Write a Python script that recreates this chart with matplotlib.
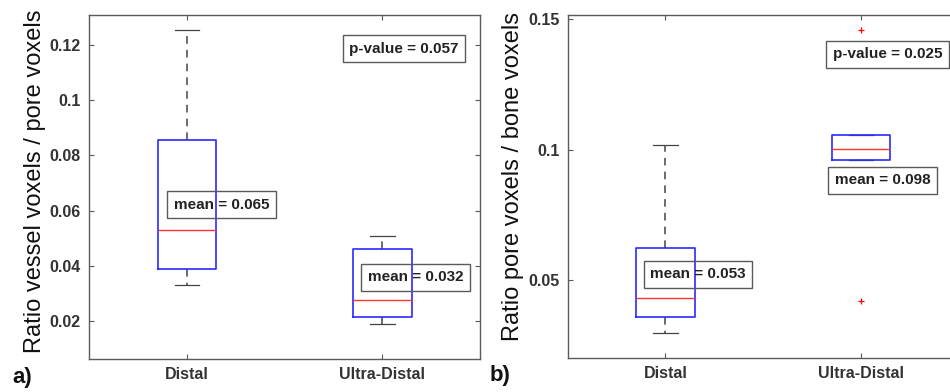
import matplotlib
matplotlib.use("Agg")
import matplotlib.pyplot as plt

plt.rcParams['font.family'] = ['Liberation Sans', 'DejaVu Sans']

groups = ["Distal", "Ultra-Distal"]

# panel a) vessel / pore ratio: q1, median, q3, whisker low, whisker high
vessel_q1 = [0.0387, 0.0213]
vessel_med = [0.0530, 0.0274]
vessel_q3 = [0.0856, 0.0462]
vessel_lo = [0.0331, 0.0188]
vessel_hi = [0.1257, 0.0507]
vessel_out = [[], []]
vessel_means = [0.065, 0.032]
vessel_p = 0.057

# panel b) pore / bone ratio
pore_q1 = [0.0361, 0.0959]
pore_med = [0.0433, 0.1003]
pore_q3 = [0.0625, 0.1057]
pore_lo = [0.0300, 0.0959]
pore_hi = [0.1018, 0.1057]
pore_out = [[], [0.1458, 0.0420]]
pore_means = [0.053, 0.098]
pore_p = 0.025

EDGE = '#5a5a5a'
TXT = '#333333'


def make_stats(q1, med, q3, lo, hi, out):
    return [dict(q1=a, med=b, q3=c, whislo=d, whishi=e, fliers=f)
            for a, b, c, d, e, f in zip(q1, med, q3, lo, hi, out)]


def draw_panel(ax, stats, ylim, yticks, yticklabels):
    ax.bxp(stats, positions=[1, 2], widths=0.3, capwidths=0.125,
           boxprops=dict(color='#2a2aff', lw=1.2, zorder=2.2),
           medianprops=dict(color='#ff3535', lw=1.0, zorder=2.3),
           whiskerprops=dict(color='#444444', lw=1.1, ls=(0, (5, 4))),
           capprops=dict(color='#444444', lw=0.9, zorder=1.9),
           flierprops=dict(marker='+', markeredgecolor='red', markersize=5,
                           markeredgewidth=0.9, ls='none'))
    ax.set_xlim(0.5, 2.5)
    ax.set_ylim(*ylim)
    ax.set_xticks([1, 2])
    ax.set_xticklabels(groups)
    ax.set_yticks(yticks)
    ax.set_yticklabels(yticklabels)
    ax.tick_params(direction='in', length=3.5, width=0.8, color=EDGE,
                   top=True, right=True, labelsize=11.5, labelcolor=TXT, pad=6)
    for lab in ax.get_xticklabels() + ax.get_yticklabels():
        lab.set_fontweight('bold')
    for sp in ax.spines.values():
        sp.set_color(EDGE)
        sp.set_linewidth(1.0)


def label_box(ax, x, y, s):
    ax.text(x, y, s, transform=ax.transAxes, ha='left', va='center',
            fontsize=11, fontweight='bold', color='#222222', zorder=5,
            bbox=dict(boxstyle='square,pad=0.42', fc='none', ec=EDGE, lw=1.0))


fig = plt.figure(figsize=(9.5, 3.92), dpi=100)

ax1 = fig.add_axes([0.094, 0.0842, 0.4113, 0.8776])
draw_panel(ax1, make_stats(vessel_q1, vessel_med, vessel_q3, vessel_lo, vessel_hi, vessel_out),
           (0.0061, 0.131), [0.02, 0.04, 0.06, 0.08, 0.1, 0.12],
           ['0.02', '0.04', '0.06', '0.08', '0.1', '0.12'])
label_box(ax1, 0.216, 0.448, f"mean = {vessel_means[0]:.3f}")
label_box(ax1, 0.7126, 0.2375, f"mean = {vessel_means[1]:.3f}")
label_box(ax1, 0.6655, 0.9017, f"p-value = {vessel_p:.3f}")

ax2 = fig.add_axes([0.5976, 0.0875, 0.4116, 0.874])
draw_panel(ax2, make_stats(pore_q1, pore_med, pore_q3, pore_lo, pore_hi, pore_out),
           (0.0204, 0.1515), [0.05, 0.1, 0.15], ['0.05', '0.1', '0.15'])
label_box(ax2, 0.2105, 0.2434, f"mean = {pore_means[0]:.3f}")
label_box(ax2, 0.6829, 0.5176, f"mean = {pore_means[1]:.3f}")
label_box(ax2, 0.6777, 0.886, f"p-value = {pore_p:.3f}")

fig.text(35 / 950, 1 - 181 / 392, "Ratio vessel voxels / pore voxels",
         rotation=90, ha='center', va='center', fontsize=17, color='#111111')
fig.text(512.5 / 950, 1 - 176.7 / 392, "Ratio pore voxels / bone voxels",
         rotation=90, ha='center', va='center', fontsize=17, color='#111111')

fig.text(12 / 950, 1 - 378 / 392, "a)", ha='left', va='center',
         fontsize=16, fontweight='bold', color='#111111')
fig.text(490 / 950, 1 - 376 / 392, "b)", ha='left', va='center',
         fontsize=16, fontweight='bold', color='#111111')

fig.savefig("out.png", dpi=100)
